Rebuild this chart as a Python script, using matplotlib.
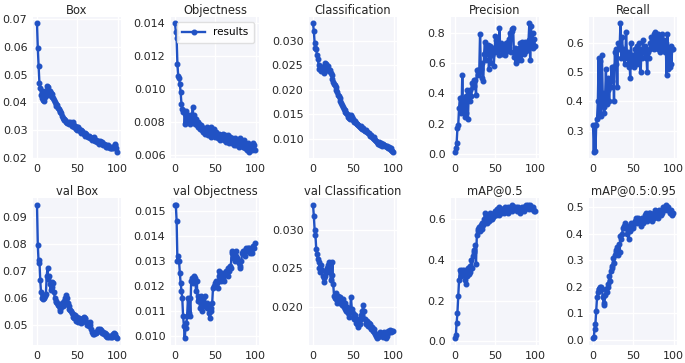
import matplotlib
matplotlib.use("Agg")
import matplotlib.pyplot as plt
import numpy as np

epochs = np.arange(100)

box = [
    0.0685, 0.0595, 0.0530, 0.0470, 0.0450, 0.0425, 0.0415, 0.0440, 0.0410, 0.0405,
    0.0420, 0.0430, 0.0460, 0.0455, 0.0445, 0.0425, 0.0440, 0.0435, 0.0420, 0.0430,
    0.0415, 0.0410, 0.0400, 0.0395, 0.0385, 0.0390, 0.0380, 0.0375, 0.0370, 0.0365,
    0.0360, 0.0350, 0.0345, 0.0340, 0.0335, 0.0335, 0.0330, 0.0325, 0.0330, 0.0320,
    0.0325, 0.0330, 0.0320, 0.0315, 0.0320, 0.0330, 0.0310, 0.0315, 0.0305, 0.0310,
    0.0300, 0.0310, 0.0305, 0.0295, 0.0300, 0.0290, 0.0295, 0.0290, 0.0285, 0.0290,
    0.0280, 0.0285, 0.0280, 0.0275, 0.0280, 0.0270, 0.0275, 0.0270, 0.0265, 0.0270,
    0.0275, 0.0265, 0.0260, 0.0265, 0.0255, 0.0260, 0.0255, 0.0250, 0.0260, 0.0255,
    0.0250, 0.0255, 0.0245, 0.0250, 0.0245, 0.0240, 0.0245, 0.0240, 0.0245, 0.0240,
    0.0235, 0.0240, 0.0235, 0.0235, 0.0240, 0.0235, 0.0250, 0.0245, 0.0235, 0.0222,
]

objectness = [
    0.0140, 0.0135, 0.0131, 0.0115, 0.0108, 0.0107, 0.0103, 0.0098, 0.0091, 0.0088,
    0.0086, 0.0087, 0.0079, 0.0085, 0.0087, 0.0080, 0.0083, 0.0081, 0.0084, 0.0079,
    0.0082, 0.0083, 0.0089, 0.0080, 0.0084, 0.0079, 0.0082, 0.0078, 0.0080, 0.0077,
    0.0079, 0.0076, 0.0078, 0.0075, 0.0077, 0.0074, 0.0076, 0.0073, 0.0075, 0.0077,
    0.0074, 0.0072, 0.0075, 0.0073, 0.0077, 0.0071, 0.0074, 0.0072, 0.0076, 0.0073,
    0.0071, 0.0074, 0.0072, 0.0070, 0.0073, 0.0071, 0.0069, 0.0072, 0.0070, 0.0073,
    0.0071, 0.0069, 0.0072, 0.0068, 0.0070, 0.0072, 0.0069, 0.0067, 0.0071, 0.0068,
    0.0070, 0.0067, 0.0069, 0.0066, 0.0070, 0.0068, 0.0066, 0.0069, 0.0067, 0.0065,
    0.0068, 0.0070, 0.0066, 0.0068, 0.0065, 0.0067, 0.0069, 0.0064, 0.0066, 0.0063,
    0.0067, 0.0064, 0.0062, 0.0066, 0.0065, 0.0063, 0.0067, 0.0064, 0.0066, 0.0063,
]

classification = [
    0.0335, 0.0320, 0.0296, 0.0284, 0.0282, 0.0270, 0.0262, 0.0250, 0.0242, 0.0243,
    0.0238, 0.0245, 0.0240, 0.0235, 0.0248, 0.0255, 0.0252, 0.0245, 0.0240, 0.0248,
    0.0238, 0.0240, 0.0235, 0.0230, 0.0222, 0.0215, 0.0212, 0.0210, 0.0205, 0.0200,
    0.0195, 0.0190, 0.0187, 0.0183, 0.0178, 0.0172, 0.0168, 0.0165, 0.0160, 0.0158,
    0.0155, 0.0152, 0.0150, 0.0145, 0.0148, 0.0143, 0.0140, 0.0148, 0.0145, 0.0140,
    0.0138, 0.0135, 0.0137, 0.0132, 0.0130, 0.0130, 0.0128, 0.0126, 0.0124, 0.0127,
    0.0122, 0.0120, 0.0123, 0.0118, 0.0116, 0.0115, 0.0118, 0.0113, 0.0111, 0.0112,
    0.0108, 0.0106, 0.0108, 0.0104, 0.0102, 0.0100, 0.0103, 0.0098, 0.0095, 0.0094,
    0.0092, 0.0090, 0.0093, 0.0088, 0.0091, 0.0088, 0.0086, 0.0090, 0.0087, 0.0085,
    0.0085, 0.0083, 0.0086, 0.0082, 0.0084, 0.0080, 0.0082, 0.0078, 0.0076, 0.0074,
]

precision = [
    0.015, 0.04, 0.07, 0.17, 0.19, 0.30, 0.37, 0.37, 0.27, 0.52,
    0.28, 0.33, 0.24, 0.38, 0.27, 0.42, 0.23, 0.40, 0.35, 0.42,
    0.38, 0.47, 0.44, 0.49, 0.45, 0.49, 0.39, 0.55, 0.52, 0.55,
    0.54, 0.79, 0.56, 0.60, 0.50, 0.48, 0.66, 0.74, 0.62, 0.70,
    0.66, 0.72, 0.56, 0.71, 0.60, 0.69, 0.65, 0.70, 0.58, 0.67,
    0.78, 0.75, 0.68, 0.72, 0.65, 0.83, 0.69, 0.73, 0.66, 0.71,
    0.68, 0.72, 0.65, 0.73, 0.70, 0.74, 0.68, 0.76, 0.80, 0.67,
    0.81, 0.82, 0.83, 0.64, 0.70, 0.60, 0.66, 0.68, 0.62, 0.70,
    0.65, 0.73, 0.62, 0.74, 0.68, 0.72, 0.66, 0.74, 0.68, 0.71,
    0.69, 0.75, 0.86, 0.62, 0.84, 0.72, 0.80, 0.70, 0.76, 0.71,
]

recall = [
    0.32, 0.228, 0.32, 0.23, 0.32, 0.34, 0.40, 0.55, 0.35, 0.54,
    0.35, 0.56, 0.43, 0.38, 0.36, 0.42, 0.51, 0.39, 0.44, 0.48,
    0.40, 0.47, 0.45, 0.52, 0.47, 0.52, 0.40, 0.57, 0.53, 0.58,
    0.45, 0.60, 0.58, 0.59, 0.668, 0.55, 0.62, 0.57, 0.58, 0.53,
    0.56, 0.64, 0.55, 0.57, 0.52, 0.56, 0.48, 0.60, 0.55, 0.53,
    0.56, 0.52, 0.58, 0.55, 0.53, 0.59, 0.54, 0.60, 0.56, 0.50,
    0.58, 0.55, 0.61, 0.57, 0.59, 0.55, 0.58, 0.50, 0.57, 0.55,
    0.58, 0.60, 0.62, 0.59, 0.61, 0.63, 0.58, 0.64, 0.60, 0.62,
    0.58, 0.63, 0.60, 0.57, 0.62, 0.59, 0.63, 0.58, 0.61, 0.57,
    0.60, 0.49, 0.63, 0.51, 0.56, 0.52, 0.59, 0.53, 0.58, 0.58,
]

val_box = [
    0.0945, 0.0795, 0.0730, 0.0740, 0.0665, 0.0620, 0.0600, 0.0595, 0.0610, 0.0600,
    0.0605, 0.0615, 0.0680, 0.0710, 0.0670, 0.0680, 0.0650, 0.0630, 0.0660, 0.0640,
    0.0655, 0.0620, 0.0600, 0.0585, 0.0590, 0.0580, 0.0575, 0.0570, 0.0560, 0.0550,
    0.0565, 0.0580, 0.0570, 0.0575, 0.0590, 0.0600, 0.0610, 0.0600, 0.0580, 0.0560,
    0.0570, 0.0555, 0.0550, 0.0545, 0.0530, 0.0540, 0.0525, 0.0535, 0.0515, 0.0530,
    0.0520, 0.0510, 0.0525, 0.0515, 0.0505, 0.0520, 0.0510, 0.0525, 0.0530, 0.0520,
    0.0525, 0.0510, 0.0500, 0.0505, 0.0495, 0.0510, 0.0500, 0.0485, 0.0475, 0.0465,
    0.0470, 0.0465, 0.0475, 0.0470, 0.0475, 0.0480, 0.0485, 0.0480, 0.0485, 0.0480,
    0.0475, 0.0470, 0.0475, 0.0465, 0.0470, 0.0460, 0.0465, 0.0455, 0.0460, 0.0455,
    0.0460, 0.0455, 0.0460, 0.0455, 0.0465, 0.0470, 0.0460, 0.0465, 0.0455, 0.0450,
]

val_objectness = [
    0.01525, 0.01525, 0.0146, 0.0130, 0.0132, 0.0130, 0.0125, 0.0121, 0.0118, 0.0115,
    0.0108, 0.0104, 0.0099, 0.0103, 0.0105, 0.0108, 0.0115, 0.0109, 0.0115, 0.0108,
    0.0122, 0.0123, 0.0121, 0.0124, 0.0122, 0.0123, 0.0118, 0.0122, 0.0114, 0.0116,
    0.0114, 0.0111, 0.0116, 0.0110, 0.0113, 0.0115, 0.0112, 0.0116, 0.0112, 0.0113,
    0.0111, 0.0112, 0.0109, 0.0107, 0.0110, 0.0111, 0.0113, 0.0119, 0.0120, 0.0121,
    0.0120, 0.0122, 0.0121, 0.0119, 0.0124, 0.0126, 0.0125, 0.0122, 0.0125, 0.0123,
    0.0124, 0.0122, 0.0125, 0.0126, 0.0125, 0.0127, 0.0124, 0.0126, 0.0128, 0.0127,
    0.0133, 0.0134, 0.0131, 0.0133, 0.0130, 0.0132, 0.0134, 0.0131, 0.0130, 0.0129,
    0.0128, 0.0127, 0.0130, 0.0133, 0.0134, 0.0133, 0.0134, 0.0132, 0.0135, 0.0134,
    0.0135, 0.0134, 0.0135, 0.0133, 0.0134, 0.0133, 0.0135, 0.0136, 0.0135, 0.0137,
]

val_classification = [
    0.0332, 0.0318, 0.0300, 0.0293, 0.0275, 0.0268, 0.0262, 0.0258, 0.0250, 0.0245,
    0.0255, 0.0248, 0.0240, 0.0238, 0.0232, 0.0240, 0.0245, 0.0250, 0.0255, 0.0245,
    0.0258, 0.0248, 0.0235, 0.0242, 0.0258, 0.0230, 0.0215, 0.0212, 0.0218, 0.0210,
    0.0205, 0.0215, 0.0210, 0.0213, 0.0205, 0.0208, 0.0203, 0.0210, 0.0200, 0.0198,
    0.0205, 0.0195, 0.0200, 0.0192, 0.0197, 0.0188, 0.0195, 0.0213, 0.0198, 0.0192,
    0.0188, 0.0185, 0.0190, 0.0180, 0.0185, 0.0178, 0.0175, 0.0182, 0.0178, 0.0190,
    0.0185, 0.0195, 0.0203, 0.0195, 0.0185, 0.0180, 0.0178, 0.0182, 0.0176, 0.0180,
    0.0175, 0.0178, 0.0172, 0.0175, 0.0170, 0.0168, 0.0172, 0.0165, 0.0163, 0.0160,
    0.0162, 0.0165, 0.0163, 0.0168, 0.0165, 0.0163, 0.0167, 0.0162, 0.0168, 0.0165,
    0.0160, 0.0163, 0.0166, 0.0170, 0.0168, 0.0171, 0.0169, 0.0168, 0.0170, 0.0169,
]

map50 = [
    0.015, 0.03, 0.09, 0.14, 0.22, 0.30, 0.35, 0.32, 0.34, 0.35,
    0.33, 0.35, 0.30, 0.28, 0.34, 0.32, 0.36, 0.33, 0.37, 0.34,
    0.40, 0.36, 0.42, 0.45, 0.44, 0.47, 0.38, 0.52, 0.55, 0.54,
    0.56, 0.54, 0.57, 0.55, 0.58, 0.57, 0.60, 0.63, 0.59, 0.62,
    0.58, 0.61, 0.59, 0.63, 0.60, 0.62, 0.60, 0.61, 0.63, 0.62,
    0.64, 0.62, 0.65, 0.63, 0.66, 0.62, 0.64, 0.63, 0.65, 0.64,
    0.65, 0.63, 0.66, 0.64, 0.65, 0.63, 0.66, 0.64, 0.65, 0.66,
    0.64, 0.67, 0.65, 0.66, 0.65, 0.66, 0.65, 0.64, 0.66, 0.65,
    0.63, 0.65, 0.64, 0.66, 0.65, 0.66, 0.64, 0.65, 0.67, 0.66,
    0.67, 0.65, 0.66, 0.67, 0.66, 0.65, 0.66, 0.65, 0.64, 0.64,
]

map50_95 = [
    0.005, 0.01, 0.04, 0.06, 0.11, 0.16, 0.18, 0.19, 0.19, 0.20,
    0.20, 0.19, 0.16, 0.14, 0.13, 0.17, 0.19, 0.18, 0.20, 0.21,
    0.24, 0.22, 0.26, 0.27, 0.28, 0.31, 0.29, 0.32, 0.34, 0.33,
    0.35, 0.32, 0.36, 0.33, 0.39, 0.38, 0.40, 0.42, 0.43, 0.44,
    0.42, 0.43, 0.40, 0.43, 0.38, 0.42, 0.41, 0.44, 0.42, 0.43,
    0.42, 0.44, 0.45, 0.46, 0.45, 0.44, 0.46, 0.45, 0.44, 0.43,
    0.45, 0.46, 0.44, 0.45, 0.47, 0.46, 0.48, 0.45, 0.47, 0.48,
    0.46, 0.48, 0.47, 0.45, 0.47, 0.48, 0.46, 0.49, 0.47, 0.48,
    0.46, 0.48, 0.49, 0.48, 0.47, 0.49, 0.48, 0.50, 0.49, 0.50,
    0.51, 0.50, 0.49, 0.50, 0.49, 0.48, 0.49, 0.48, 0.47, 0.48,
]

titles = ["Box", "Objectness", "Classification", "Precision", "Recall",
          "val Box", "val Objectness", "val Classification", "mAP@0.5", "mAP@0.5:0.95"]
series = [box, objectness, classification, precision, recall,
          val_box, val_objectness, val_classification, map50, map50_95]

# axes boxes in pixels (left, right) per column and (top, bottom) per row
W, H = 685, 363
col_px = [(33, 121), (171, 259), (309, 397), (451, 539), (589, 677)]
row_px = [(17, 158), (198, 345)]

plt.rcParams["font.family"] = "DejaVu Sans"
plt.rcParams["font.size"] = 8
fig = plt.figure(figsize=(W / 100, H / 100), dpi=100)

line_color = "#2152c4"
for i, (title, y) in enumerate(zip(titles, series)):
    r, c = divmod(i, 5)
    x0, x1 = col_px[c]
    y0, y1 = row_px[r]
    ax = fig.add_axes([x0 / W, (H - y1) / H, (x1 - x0) / W, (y1 - y0) / H])
    ax.set_facecolor("#f4f5fa")
    for s in ax.spines.values():
        s.set_visible(False)
    ax.grid(True, color="white", linewidth=1)
    ax.set_axisbelow(True)
    ax.plot(epochs, y, marker="o", markersize=3.3, linewidth=1.7,
            color=line_color, label="results")
    ax.set_title(title, fontsize=8.3, color="#262626", pad=2.5)
    ax.set_xticks([0, 50, 100])
    ax.tick_params(length=0, labelsize=8, colors="#262626", pad=4)
    if i == 1:
        ax.legend(loc="upper right", fontsize=7.5, frameon=True,
                  facecolor="white", edgecolor="#dddddd", framealpha=0.9,
                  handlelength=2.2, borderpad=0.5)

fig.savefig("out.png", dpi=100)
